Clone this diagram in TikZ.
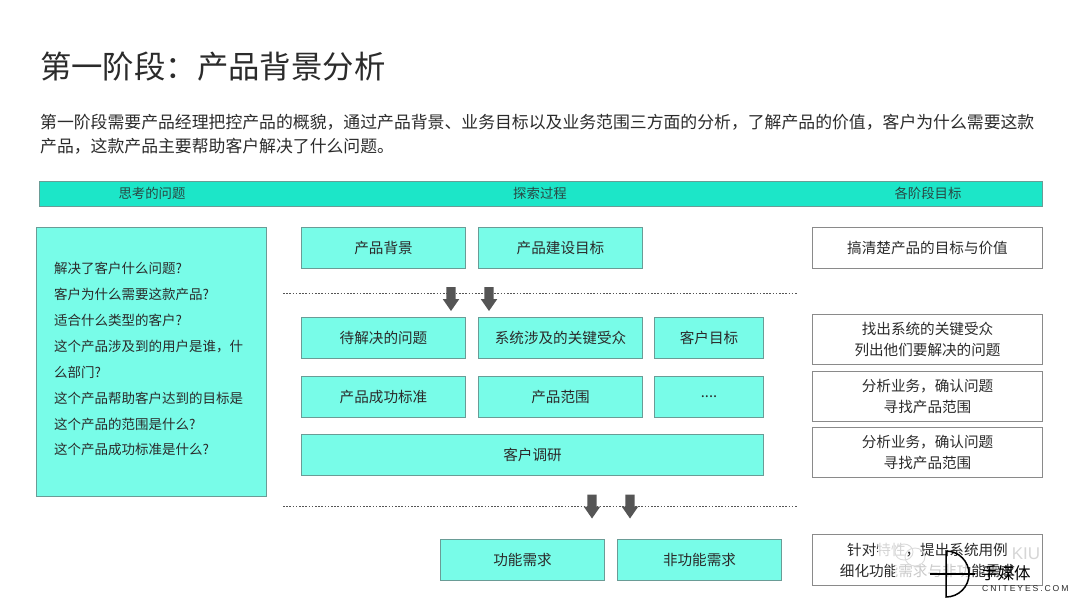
\documentclass[tikz,border=0pt]{standalone}
\usepackage{fontspec}
\setmainfont{Noto Sans CJK SC}
\newfontfamily\latinwm[LetterSpace=22]{Liberation Sans}
\newfontfamily\latinplain{Liberation Sans}
\newcommand{\fwcomma}{\char"FF0C\relax}
\newcommand{\fwcolon}{\char"FF1A\relax}
\definecolor{headfill}{HTML}{1CE6C8}
\definecolor{boxfill}{HTML}{78FCE8}
\definecolor{boxline}{HTML}{6A9C96}
\definecolor{ink}{HTML}{2B2B2B}
\definecolor{goalline}{HTML}{8A8A8A}
\definecolor{arrowgrey}{HTML}{555555}
\tikzset{
  px/.style={x=1pt,y=-1pt},
  headband/.style={draw=boxline,fill=headfill,line width=0.8pt},
  headtext/.style={text=ink!85!headfill,font=\fontsize{13.4}{16}\selectfont,inner sep=0pt},
  tealbox/.style={draw=boxline,fill=boxfill,line width=0.9pt,text=ink,font=\fontsize{14.6}{20}\selectfont,inner sep=0pt,align=center},
  goalbox/.style={draw=goalline,fill=white,line width=0.9pt,text=ink,font=\fontsize{14.6}{21}\selectfont,inner sep=0pt,align=center},
  divider/.style={draw=arrowgrey,line width=0.9pt,dash pattern=on 1.6pt off 1.6pt},
  faintmark/.style={draw=black!14,line width=0.9pt}
}
% Box with corners given in pixels
\newcommand{\pbox}[6]{\node[#1,minimum width=#4pt-#3pt-0.9pt,minimum height=#6pt-#5pt-0.9pt,anchor=center] (#2) at ({(#3+#4)/2},{(#5+#6)/2})}
% Block arrow pointing down, centred on a named coordinate
\newcommand{\blockarrow}[1]{\fill[arrowgrey] ([shift={(-4.7,-12)}]#1) -- ([shift={(4.7,-12)}]#1) -- ([shift={(4.7,0)}]#1) -- ([shift={(8.3,0)}]#1) -- ([shift={(0,12)}]#1) -- ([shift={(-8.3,0)}]#1) -- ([shift={(-4.7,0)}]#1) -- cycle;}
\begin{document}
\begin{tikzpicture}[px]
\useasboundingbox (0,0) rectangle (1080,608);
\fill[white] (0,0) rectangle (1080,608);

% Heading and introduction
\node[anchor=west,inner sep=0pt,text=ink,font=\fontsize{31.4}{36}\selectfont] (title) at (40,67) {第一阶段\fwcolon 产品背景分析};
\node[anchor=west,inner sep=0pt,text=ink,font=\fontsize{16.85}{20}\selectfont] (introa) at (40,122) {第一阶段需要产品经理把控产品的概貌\fwcomma 通过产品背景、业务目标以及业务范围三方面的分析\fwcomma 了解产品的价值\fwcomma 客户为什么需要这款};
\node[anchor=west,inner sep=0pt,text=ink,font=\fontsize{16.85}{20}\selectfont] (introb) at (40,146) {产品\fwcomma 这款产品主要帮助客户解决了什么问题。};

% Column header band
\pbox{headband}{band}{39}{1043}{181}{207} {};
\node[headtext] (heada) at (152,193.5) {思考的问题};
\node[headtext] (headb) at (540,193.5) {探索过程};
\node[headtext] (headc) at (928,193.5) {各阶段目标};

% Questions panel
\pbox{tealbox}{panel}{36}{267}{227}{497} {};
\node[anchor=north west,inner sep=0pt,text=ink,align=left,font=\fontsize{13.5}{25.9}\selectfont] (questions) at (54,262) {解决了客户什么问题?\\客户为什么需要这款产品?\\适合什么类型的客户?\\这个产品涉及到的用户是谁\fwcomma 什\\么部门?\\这个产品帮助客户达到的目标是\\这个产品的范围是什么?\\这个产品成功标准是什么?};

% Exploration boxes
\pbox{tealbox}{bg}{301}{466}{227}{269} {产品背景};
\pbox{tealbox}{goal}{478}{643}{227}{269} {产品建设目标};
\pbox{tealbox}{issue}{301}{466}{317}{359} {待解决的问题};
\pbox{tealbox}{audience}{478}{643}{317}{359} {系统涉及的关键受众};
\pbox{tealbox}{custgoal}{654}{764}{317}{359} {客户目标};
\pbox{tealbox}{success}{301}{466}{376}{418} {产品成功标准};
\pbox{tealbox}{scope}{478}{643}{376}{418} {产品范围};
\pbox{tealbox}{more}{654}{764}{376}{418} {\raisebox{-2pt}{....}};
\pbox{tealbox}{survey}{301}{764}{434}{476} {客户调研};
\pbox{tealbox}{func}{440}{605}{539}{581} {功能需求};
\pbox{tealbox}{nonfunc}{617}{782}{539}{581} {非功能需求};

% Dividers and the arrows crossing them
\coordinate (dividerAl) at (283,293);
\coordinate (dividerAr) at (798,293);
\coordinate (dividerBl) at (283,506);
\coordinate (dividerBr) at (798,506);
\draw[divider] (dividerAl) -- (dividerAr);
\draw[divider] (dividerBl) -- (dividerBr);
\coordinate (arrowa) at (451,299);
\coordinate (arrowb) at (489,299);
\coordinate (arrowc) at (592,506.5);
\coordinate (arrowd) at (630,506.5);
\blockarrow{arrowa}
\blockarrow{arrowb}
\blockarrow{arrowc}
\blockarrow{arrowd}

% Stage goals
\pbox{goalbox}{goala}{812}{1043}{227}{269} {搞清楚产品的目标与价值};
\pbox{goalbox}{goalb}{812}{1043}{314}{365} {找出系统的关键受众\\列出他们要解决的问题};
\pbox{goalbox}{goalc}{812}{1043}{371}{422} {分析业务\fwcomma 确认问题\\寻找产品范围};
\pbox{goalbox}{goald}{812}{1043}{427}{478} {分析业务\fwcomma 确认问题\\寻找产品范围};
\pbox{goalbox}{goale}{812}{1043}{534}{586} {针对特性\fwcomma 提出系统用例\\细化功能需求与非功能需求};

% Publisher marks over the last goal box
\fill[white,opacity=0.8] (878,542) rectangle (905,560);
\fill[white,opacity=0.75] (895,562) rectangle (968,582);
\draw[faintmark] (904,552) ellipse[x radius=9,y radius=8];
\draw[faintmark] (915,557) ellipse[x radius=10,y radius=9];
\node[inner sep=0pt,text=black!16,font=\latinplain\fontsize{17}{19}\selectfont] (faintname) at (1026,554) {KIU};
\draw[black,line width=1.5pt] (946,551) -- (946,597) arc[start angle=90,end angle=-90,radius=23] -- cycle;
\draw[black,line width=1.5pt] (930,574) -- (975,574);
\node[anchor=west,inner sep=0pt,text=black,font=\fontsize{16.5}{18}\selectfont] (mark) at (981,573) {手媒体};
\node[anchor=west,inner sep=0pt,text=ink,font=\latinwm\fontsize{8.6}{10}\selectfont] (site) at (982,588.5) {CNITEYES.COM};
\end{tikzpicture}
\end{document}
